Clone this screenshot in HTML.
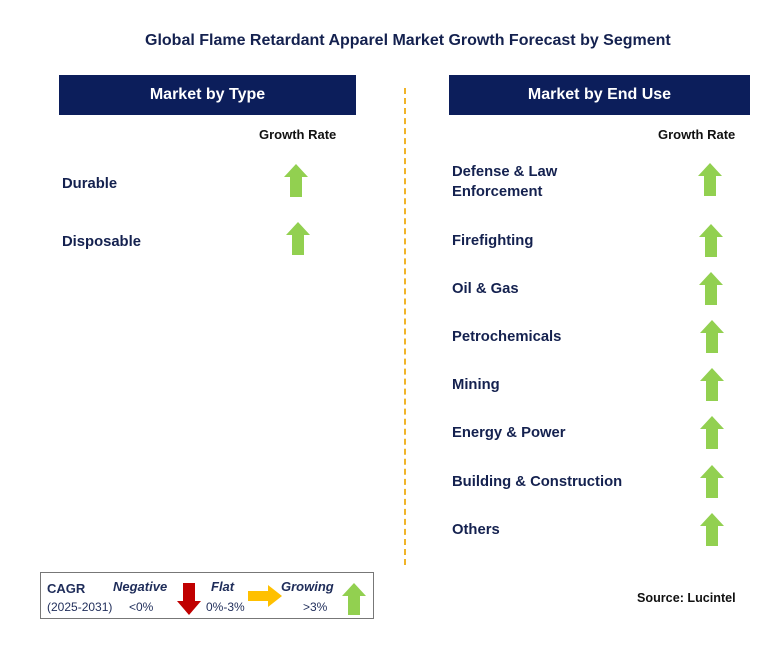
<!DOCTYPE html>
<html><head><meta charset="utf-8"><style>
body{margin:0;width:779px;height:645px;background:#fff;position:relative;font-family:"Liberation Sans",Arial,sans-serif;overflow:hidden}
.a{position:absolute}
.t{position:absolute;color:#14214f;font-weight:bold;font-size:14.8px}
.h{position:absolute;background:#0c1e5b;color:#fff;font-weight:bold;font-size:16px;display:flex;align-items:center;justify-content:center;height:40px;top:75px}
.g{position:absolute;font-weight:bold;font-size:13px;color:#111}
svg.ar{position:absolute;width:24px;height:33px}
</style></head><body>
<div class="t" style="left:145px;top:32px;font-size:16px;white-space:nowrap">Global Flame Retardant Apparel Market Growth Forecast by Segment</div>
<div class="h" style="left:59px;width:297px">Market by Type</div>
<div class="h" style="left:449px;width:301px">Market by End Use</div>
<div class="a" style="left:404px;top:88px;height:477px;border-left:2px dashed #f0b429"></div>
<div class="g" style="left:259px;top:127px">Growth Rate</div>
<div class="g" style="left:658px;top:127px">Growth Rate</div>
<div class="a" style="left:40px;top:572px;width:334px;height:47px;border:1px solid #777;box-sizing:border-box">
<div class="a" style="left:6px;top:8px;font-weight:bold;font-size:13px;color:#1f2d5a">CAGR</div>
<div class="a" style="left:6px;top:27px;font-size:12px;color:#1f2d5a">(2025-2031)</div>
<div class="a" style="left:72px;top:6px;font-weight:bold;font-style:italic;font-size:13px;color:#1f2d5a">Negative</div>
<div class="a" style="left:88px;top:27px;font-size:12px;color:#1f2d5a">&lt;0%</div>
<svg class="a" style="left:136px;top:10px" width="24" height="32" viewBox="0 0 24 32"><polygon points="6,0 18,0 18,18 24,18 12,32 0,18 6,18" fill="#c00000"/></svg>
<div class="a" style="left:170px;top:6px;font-weight:bold;font-style:italic;font-size:13px;color:#1f2d5a">Flat</div>
<div class="a" style="left:165px;top:27px;font-size:12px;color:#1f2d5a">0%-3%</div>
<svg class="a" style="left:207px;top:12px" width="34" height="22" viewBox="0 0 34 22"><polygon points="0,6 20,6 20,0 34,11 20,22 20,16 0,16" fill="#ffc000"/></svg>
<div class="a" style="left:240px;top:6px;font-weight:bold;font-style:italic;font-size:13px;color:#1f2d5a">Growing</div>
<div class="a" style="left:262px;top:27px;font-size:12px;color:#1f2d5a">&gt;3%</div>
<svg class="a" style="left:301px;top:10px" width="24" height="32" viewBox="0 0 24 32"><polygon points="12,0 24,13 18,13 18,32 6,32 6,13 0,13" fill="#92d050"/></svg>
</div>
<div class="t" style="left:637px;top:591px;font-size:12.6px;color:#111">Source: Lucintel</div>
<script>
const typeLabels=["Durable","Disposable"];
const typeY=[183,241];
const endLabels=["Defense & Law<br>Enforcement","Firefighting","Oil & Gas","Petrochemicals","Mining","Energy & Power","Building & Construction","Others"];
const endY=[179,240,288,336,384,432,481,529];
function arrow(x,y,name){
  const s=document.createElementNS('http://www.w3.org/2000/svg','svg');
  s.setAttribute('class','ar');s.setAttribute('viewBox','0 0 24 33');
  s.style.left=x+'px';s.style.top=(y-16)+'px';
  s.innerHTML='<polygon points="12,0 24,13 18,13 18,33 6,33 6,13 0,13" fill="#92d050"/>';
  
  
  document.body.appendChild(s);
}
function label(x,y,txt,name,two){
  const d=document.createElement('div');d.className='t';d.innerHTML=txt;
  d.style.left=x+'px';d.style.top=(y-(two?16:8))+'px';d.style.lineHeight='20px';d.style.marginTop='-1px';
  
  
  document.body.appendChild(d);
}
typeLabels.forEach((l,i)=>{label(62,typeY[i],l,'type-label',false);arrow(284+i*2,typeY[i]-3,'type-arrow');});
endLabels.forEach((l,i)=>{label(452,endY[i],l,'end-use-label',l.includes('<br>'));arrow(698+Math.min(i,4)*0.5,endY[i],'end-use-arrow');});
</script>
</body></html>
